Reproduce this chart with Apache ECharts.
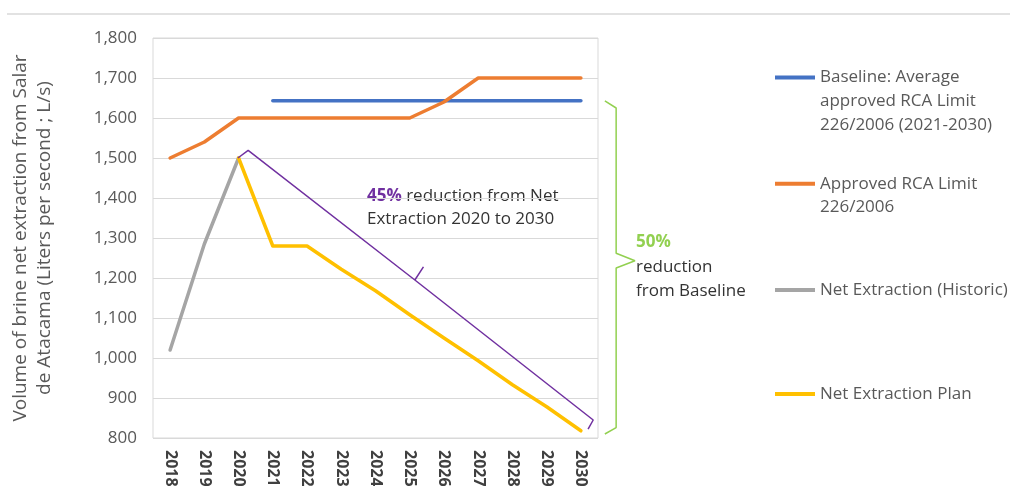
<!DOCTYPE html>
<html>
<head>
<meta charset="utf-8">
<script src="https://cdn.jsdelivr.net/npm/echarts@6/dist/echarts.min.js"></script>
<style>
  html, body { margin: 0; padding: 0; background: #ffffff; }
  #chart { width: 1010px; height: 486px; }
</style>
</head>
<body>
<div id="chart"></div>
<script>
// Years on the category axis
const years = ['2018', '2019', '2020', '2021', '2022', '2023', '2024', '2025', '2026', '2027', '2028', '2029', '2030'];

// Brine net extraction, L/s
const baselineAvg   = ['-', '-', '-', 1643, 1643, 1643, 1643, 1643, 1643, 1643, 1643, 1643, 1643];
const approvedLimit = [1500, 1540, 1600, 1600, 1600, 1600, 1600, 1600, 1640, 1700, 1700, 1700, 1700];
const netHistoric   = [1020, 1285, 1500, '-', '-', '-', '-', '-', '-', '-', '-', '-', '-'];
const netPlan       = ['-', '-', 1500, 1280, 1280, 1222, 1168, 1108, 1050, 993, 933, 878, 818];

// Y axis range and step
const yMin = 800, yMax = 1800, yStep = 100;

// Bracket outlines, as [year index, L/s]
const bracket45 = [[1.98, 1500], [2.28, 1519], [7.15, 1195], [7.4, 1228], [7.15, 1195], [12.36, 845], [12.21, 822]];
const bracket50 = [[12.7, 1643], [13.03, 1625], [13.03, 1262], [13.58, 1243], [13.03, 1225], [13.03, 826], [12.7, 810]];

// Series names and their wrapped legend text
const names = {
  base: 'Baseline: Average approved RCA Limit 226/2006 (2021-2030)',
  limit: 'Approved RCA Limit 226/2006',
  hist: 'Net Extraction (Historic)',
  plan: 'Net Extraction Plan'
};
const legendLines = {
  [names.base]: ['Baseline: Average', 'approved RCA Limit', '226/2006 (2021-2030)'],
  [names.limit]: ['Approved RCA Limit', '226/2006'],
  [names.hist]: ['Net Extraction (Historic)'],
  [names.plan]: ['Net Extraction Plan']
};

const FONT = '"Open Sans", "Noto Sans", sans-serif';
const GREY_TEXT = '#595959';

// Plot area: 13 category slots; the annotation grid shares the same scale but reaches further right
const PLOT_LEFT = 153, PLOT_WIDTH = 445, PLOT_TOP = 38, PLOT_BOTTOM = 48;
const SLOTS = years.length;
const NOTE_SLOTS = 16;

// Legend text: leading blank lines keep the swatch level with the first text line
function legendFormatter(n) {
  const lines = legendLines[n];
  return '\n'.repeat(lines.length - 1) + lines.join('\n');
}

function makeLegend(name, top, lineHeight) {
  return {
    data: [name],
    left: 775,
    top: top,
    orient: 'vertical',
    padding: 0,
    itemWidth: 40,
    itemHeight: 4,
    itemGap: 0,
    itemStyle: { borderWidth: 0 },
    icon: 'rect',
    selectedMode: false,
    textStyle: {
      fontFamily: FONT,
      fontSize: 17,
      color: GREY_TEXT,
      lineHeight: lineHeight
    },
    formatter: legendFormatter
  };
}

function lineSeries(name, data, color) {
  return {
    name: name,
    type: 'line',
    data: data,
    color: color,
    symbol: 'none',
    connectNulls: false,
    lineStyle: { width: 3.5, color: color, cap: 'round', join: 'round' },
    emphasis: { disabled: true },
    z: 3
  };
}

function bracketSeries(data, color) {
  return {
    type: 'line',
    xAxisIndex: 1,
    yAxisIndex: 1,
    data: data,
    symbol: 'none',
    clip: false,
    silent: true,
    lineStyle: { width: 1.5, color: color },
    emphasis: { disabled: true },
    z: 4
  };
}

const chart = echarts.init(document.getElementById('chart'), null, { renderer: 'canvas' });

chart.setOption({
  backgroundColor: '#ffffff',
  animation: false,
  textStyle: { fontFamily: FONT },
  grid: [
    {
      left: PLOT_LEFT, width: PLOT_WIDTH, top: PLOT_TOP, bottom: PLOT_BOTTOM,
      outerBoundsMode: 'none', containLabel: false,
      show: true, borderColor: '#d9d9d9', borderWidth: 1, backgroundColor: 'transparent'
    },
    {
      left: PLOT_LEFT, width: PLOT_WIDTH * NOTE_SLOTS / SLOTS, top: PLOT_TOP, bottom: PLOT_BOTTOM,
      outerBoundsMode: 'none', containLabel: false,
      show: false
    }
  ],
  legend: [
    makeLegend(names.base, 17.5, 24),
    makeLegend(names.limit, 148.5, 23.5),
    makeLegend(names.hist, 278, 24),
    makeLegend(names.plan, 382, 24)
  ],
  xAxis: [
    {
      type: 'category',
      gridIndex: 0,
      data: years,
      boundaryGap: true,
      axisLine: { show: false },
      axisTick: { show: false },
      axisLabel: {
        rotate: -90,
        margin: 12,
        fontSize: 16,
        fontWeight: 'bold',
        color: '#404040',
        fontFamily: FONT
      }
    },
    {
      type: 'value',
      gridIndex: 1,
      min: -0.5,
      max: NOTE_SLOTS - 0.5,
      show: false
    }
  ],
  yAxis: [
    {
      type: 'value',
      gridIndex: 0,
      min: yMin,
      max: yMax,
      interval: yStep,
      axisLine: { show: false },
      axisTick: { show: false },
      splitLine: { lineStyle: { color: '#d9d9d9', width: 1 } },
      axisLabel: {
        margin: 16,
        fontSize: 17,
        color: GREY_TEXT,
        fontFamily: FONT,
        formatter: v => v.toLocaleString('en-US')
      },
      name: 'Volume of brine net extraction from Salar\nde Atacama (Liters per second ; L/s)',
      nameLocation: 'middle',
      nameRotate: 90,
      nameGap: 96,
      nameTextStyle: {
        fontSize: 19,
        color: GREY_TEXT,
        fontFamily: FONT,
        lineHeight: 24
      }
    },
    {
      type: 'value',
      gridIndex: 1,
      min: yMin,
      max: yMax,
      show: false
    }
  ],
  series: [
    lineSeries(names.base, baselineAvg, '#4472c4'),
    lineSeries(names.limit, approvedLimit, '#ed7d31'),
    lineSeries(names.hist, netHistoric, '#a5a5a5'),
    lineSeries(names.plan, netPlan, '#ffc000'),
    bracketSeries(bracket45, '#7030a0'),
    bracketSeries(bracket50, '#92d050')
  ],
  graphic: [
    {
      type: 'line',
      shape: { x1: 7, y1: 14, x2: 1010, y2: 14 },
      style: { stroke: '#d9d9d9', lineWidth: 1.5 },
      silent: true
    },
    {
      type: 'text',
      left: 367,
      top: 185,
      silent: true,
      style: {
        text: '{p|45%} reduction from Net\nExtraction 2020 to 2030',
        fill: '#333333',
        font: '17px ' + FONT,
        lineHeight: 23,
        rich: {
          p: { fill: '#7030a0', fontWeight: 'bold', fontSize: 17, fontFamily: FONT, lineHeight: 23 }
        }
      }
    },
    {
      type: 'text',
      left: 636,
      top: 230,
      silent: true,
      style: {
        text: '{g|50%}\nreduction\nfrom Baseline',
        fill: '#333333',
        font: '17px ' + FONT,
        lineHeight: 24.5,
        rich: {
          g: { fill: '#92d050', fontWeight: 'bold', fontSize: 17, fontFamily: FONT, lineHeight: 24.5 }
        }
      }
    }
  ]
});
</script>
</body>
</html>
